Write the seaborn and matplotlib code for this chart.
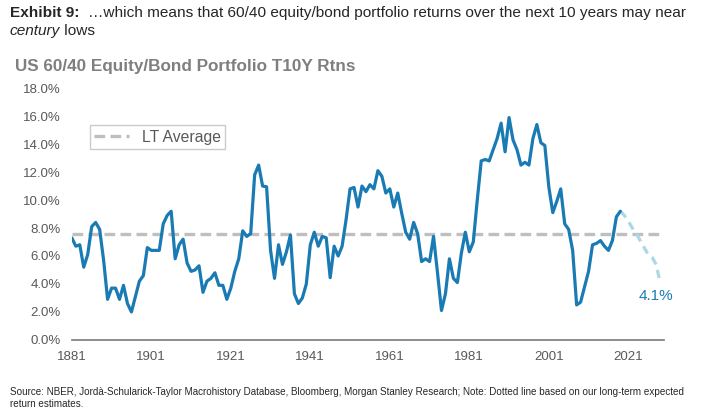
"""US 60/40 equity/bond portfolio trailing 10-year returns, with forecast."""

import matplotlib.pyplot as plt
import pandas as pd
import seaborn as sns
from matplotlib.ticker import FuncFormatter


FIRST_YEAR = 1881
RETURNS = [
    7.3, 6.7, 6.8, 5.2, 6.1, 8.1, 8.4, 7.9, 5.7, 2.9,
    3.7, 3.7, 2.9, 3.9, 2.6, 2.0, 3.1, 4.2, 4.6, 6.6,
    6.4, 6.4, 6.4, 8.3, 8.9, 9.2, 5.8, 6.8, 7.2, 5.5,
    4.9, 5.0, 5.3, 3.4, 4.2, 4.4, 4.8, 3.9, 3.9, 2.9,
    3.7, 4.9, 5.8, 7.8, 7.4, 7.6, 11.8, 12.5, 11.0, 10.95,
    6.4, 4.4, 6.8, 5.4, 6.3, 7.5, 3.3, 2.6, 3.0, 4.0,
    6.8, 7.7, 6.7, 7.4, 7.3, 4.45, 6.7, 6.0, 6.7, 8.6,
    10.8, 10.9, 9.5, 11.0, 10.6, 11.1, 10.8, 12.1, 11.7, 10.5,
    10.8, 9.5, 10.5, 9.05, 7.7, 7.2, 8.4, 7.6, 5.6, 5.8,
    5.6, 7.4, 4.8, 2.1, 3.3, 5.8, 4.4, 4.1, 6.2, 7.7,
    6.3, 7.0, 10.0, 12.8, 12.9, 12.8, 13.6, 14.4, 15.5, 13.45,
    15.9, 14.3, 13.6, 12.5, 12.7, 12.5, 14.4, 15.4, 14.1, 13.9,
    10.95, 9.1, 9.9, 10.8, 8.3, 7.9, 6.4, 2.5, 2.7, 3.8,
    4.9, 6.8, 6.9, 7.1, 6.7, 6.4, 7.1, 8.8, 9.2,
]
YEARS = list(range(FIRST_YEAR, FIRST_YEAR + len(RETURNS)))

FORECAST_YEARS = list(range(2019, 2030))
FORECAST = [9.2, 8.9, 8.5, 8.0, 7.6, 7.1, 6.6, 6.1, 5.9, 5.4, 4.1]

LT_AVERAGE = 7.6
X_TICKS = list(range(1881, 2022, 20))
Y_TICKS = [0, 2, 4, 6, 8, 10, 12, 14, 16, 18]

BLUE = "#1A7BB4"
LIGHT_BLUE = "#A9D9E6"
AVG_GREY = "#BFBFBF"
TEXT_GREY = "#595959"


def main():
    sns.set_theme(style="white")
    plt.rcParams["font.family"] = ["Liberation Sans", "DejaVu Sans"]

    history = pd.DataFrame({"year": YEARS, "ret": RETURNS})
    forecast = pd.DataFrame({"year": FORECAST_YEARS, "ret": FORECAST})

    fig = plt.figure(figsize=(7.11, 4.16), dpi=100)
    ax = fig.add_axes([0.101, 0.183, 0.833, 0.605])

    ax.axhline(LT_AVERAGE, color=AVG_GREY, lw=2.4, dashes=(3.2, 1.6),
               label="LT Average", zorder=1)
    sns.lineplot(data=history, x="year", y="ret", color=BLUE, lw=2.3,
                 ax=ax, zorder=3)
    sns.lineplot(data=forecast, x="year", y="ret", color=LIGHT_BLUE, lw=2.3,
                 ax=ax, zorder=2)
    ax.lines[-1].set_dashes((2.6, 1.8))

    ax.annotate(f"{FORECAST[-1]:.1f}%", (FORECAST_YEARS[-1], FORECAST[-1]),
                xytext=(-3, -10), textcoords="offset points", ha="center",
                va="center", color=BLUE, fontsize=11)

    ax.set_xlim(1881, 2030)
    ax.set_ylim(0, 18)
    ax.set_xticks(X_TICKS)
    ax.set_yticks(Y_TICKS)
    ax.yaxis.set_major_formatter(FuncFormatter(lambda v, _: f"{v:.1f}%"))
    ax.set_xlabel("")
    ax.set_ylabel("")
    for side in ("left", "right", "top"):
        ax.spines[side].set_visible(False)
    ax.spines["bottom"].set_color("#808080")
    ax.tick_params(axis="x", direction="out", length=5, width=1,
                   color="#808080", labelsize=9.5, labelcolor=TEXT_GREY, pad=3)
    ax.tick_params(axis="y", length=0, labelsize=9.5, labelcolor=TEXT_GREY,
                   pad=8)

    legend = ax.legend(handles=[ax.lines[0]], loc="upper left",
                       bbox_to_anchor=(0.017, 0.885), fontsize=11.3,
                       frameon=True, fancybox=False, handlelength=2.2,
                       borderpad=0.3, labelcolor=TEXT_GREY)
    legend.get_frame().set_edgecolor("#BFBFBF")
    legend.get_frame().set_linewidth(1)

    # header: bold lead-in, then the rest on the same baseline
    size = 11.1
    first = fig.text(0.014, 0.958, "Exhibit 9:  ", fontsize=size,
                     fontweight="bold", va="baseline")
    ax.annotate("\u2026which means that 60/40 equity/bond portfolio returns "
                "over the next 10 years may near", xy=(1, 0), xycoords=first,
                va="bottom", fontsize=size, annotation_clip=False)
    second = fig.text(0.014, 0.915, "century", fontsize=size, style="italic",
                      va="baseline")
    ax.annotate(" lows", xy=(1, 0), xycoords=second, va="bottom",
                fontsize=size, annotation_clip=False)

    fig.text(0.021, 0.84, "US 60/40 Equity/Bond Portfolio T10Y Rtns",
             fontsize=12.3, fontweight="bold", color="#7F7F7F", va="center")
    fig.text(0.014, 0.058, "Source: NBER, Jord\u00e0-Schularick-Taylor "
             "Macrohistory Database, Bloomberg, Morgan Stanley Research; Note: "
             "Dotted line based on our long-term expected", fontsize=7.1,
             va="center")
    fig.text(0.014, 0.029, "return estimates.", fontsize=7.1, va="center")

    fig.savefig("out.png", dpi=100)
    plt.close(fig)


if __name__ == "__main__":
    main()
